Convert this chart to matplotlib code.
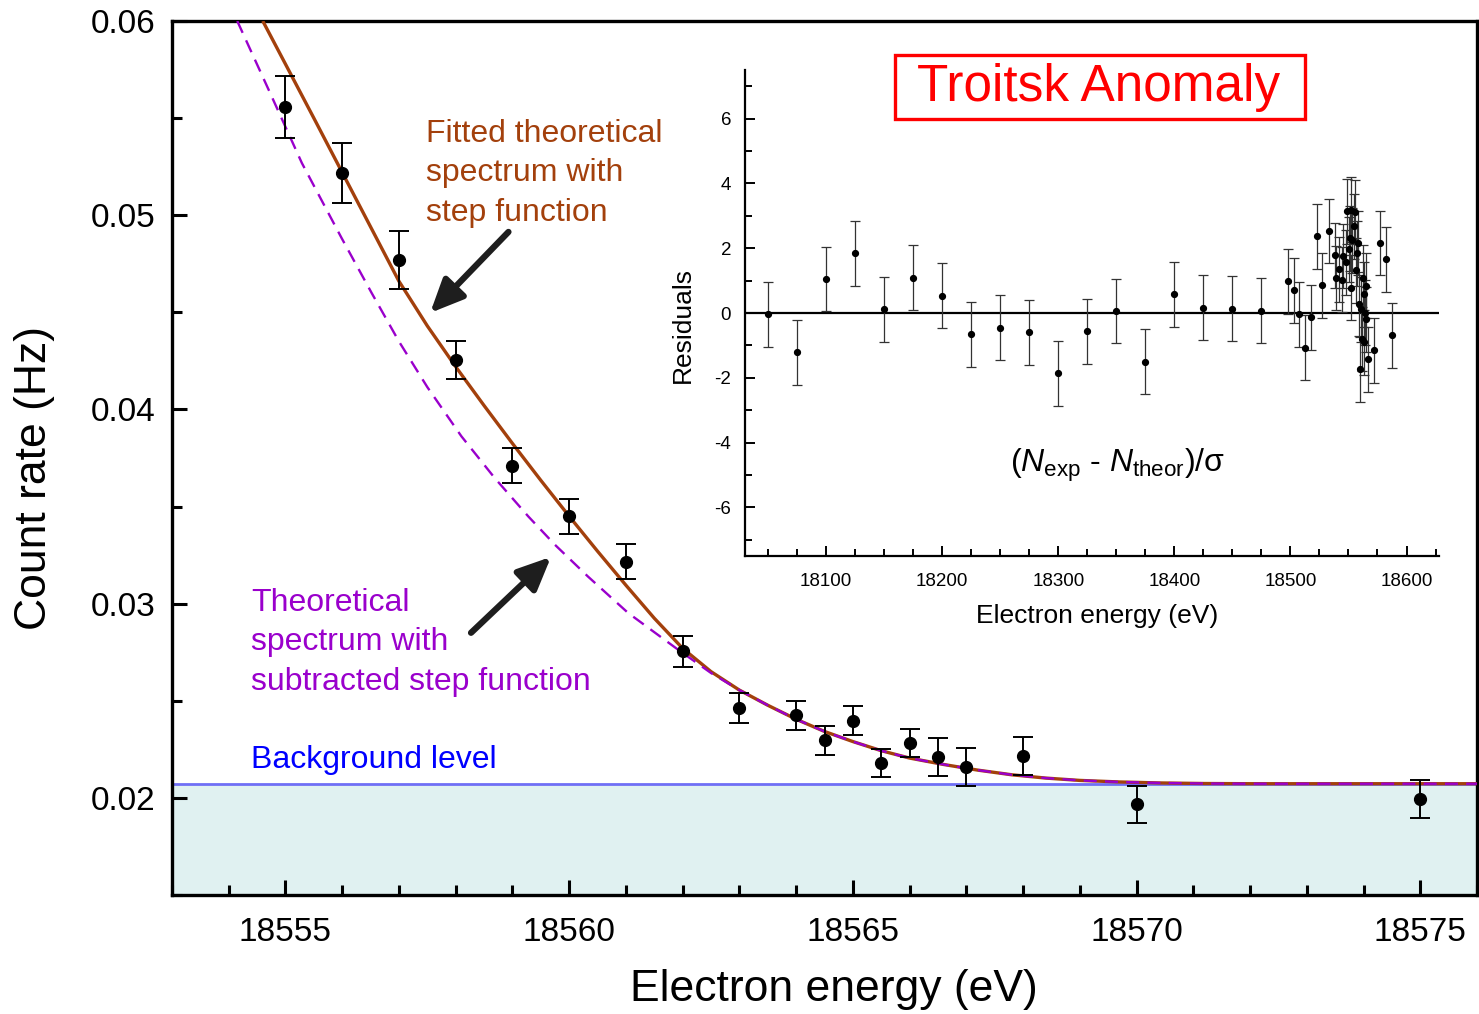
import matplotlib
matplotlib.use("Agg")
import matplotlib.pyplot as plt
from matplotlib.patches import Rectangle
from matplotlib.ticker import MultipleLocator, FixedLocator

plt.rcParams['font.family'] = ['Liberation Sans', 'DejaVu Sans']
plt.rcParams['mathtext.fontset'] = 'custom'
plt.rcParams['mathtext.rm'] = 'Liberation Sans'
plt.rcParams['mathtext.it'] = 'Liberation Sans:italic'

# ---- main spectrum: measured count rate near the endpoint ----
energy = [18555, 18556, 18557, 18558, 18559, 18560, 18561, 18562, 18563,
          18564, 18564.5, 18565, 18565.5, 18566, 18566.5, 18567, 18568,
          18570, 18575]
rate = [0.05557, 0.05218, 0.04770, 0.04255, 0.03711, 0.03451, 0.03217,
        0.02754, 0.02461, 0.02425, 0.02296, 0.02397, 0.02180, 0.02281,
        0.02210, 0.02157, 0.02216, 0.01967, 0.01996]
rate_err = [0.00161, 0.00155, 0.00148, 0.00098, 0.00092, 0.00090, 0.00088,
            0.00079, 0.00077, 0.00075, 0.00074, 0.00075, 0.00072, 0.00073,
            0.00098, 0.00098, 0.00100, 0.00095, 0.00098]

background = 0.02073

# fitted spectrum including the step function
fit_e = [18554.6, 18555.0, 18555.5, 18556.0, 18556.5, 18557.0, 18557.5,
         18558.0, 18558.5, 18559.0, 18559.5, 18560.0, 18560.5, 18561.0,
         18561.5, 18562.0, 18562.5, 18563.0, 18563.5, 18564.0, 18564.5,
         18565.0, 18565.5, 18566.0, 18566.6, 18567.2, 18567.8, 18568.4,
         18569.0, 18569.7, 18570.4, 18571.2, 18572.0, 18576.0]
fit_rate = [0.06000, 0.05778, 0.05500, 0.05220, 0.04940, 0.04660, 0.04430,
            0.04220, 0.04020, 0.03825, 0.03635, 0.03450, 0.03270, 0.03095,
            0.02925, 0.02770, 0.02650, 0.02555, 0.02477, 0.02405, 0.02342,
            0.02290, 0.02243, 0.02205, 0.02172, 0.02143, 0.02119, 0.02102,
            0.02090, 0.02082, 0.02077, 0.02074, 0.02073, 0.02073]

# theoretical spectrum with the step function subtracted
theo_e = [18554.15, 18554.7, 18555.29, 18555.99, 18556.52, 18557.0, 18557.5,
          18558.1, 18558.69, 18559.28, 18559.75, 18560.33, 18561.04,
          18561.92, 18562.5, 18563.0, 18563.5, 18564.0, 18564.5, 18565.0,
          18565.5, 18566.0, 18566.6, 18567.2, 18567.8, 18568.4, 18569.0,
          18569.7, 18570.4, 18571.2, 18572.0, 18576.0]
theo_rate = [0.06000, 0.05648, 0.05268, 0.04882, 0.04599, 0.04350, 0.04115,
             0.03862, 0.03646, 0.03449, 0.03303, 0.03140, 0.02952,
             0.02763, 0.02643, 0.02555, 0.02477, 0.02405, 0.02342, 0.02290,
             0.02243, 0.02205, 0.02172, 0.02143, 0.02119, 0.02102, 0.02090,
             0.02082, 0.02077, 0.02074, 0.02073, 0.02073]

# ---- inset: normalised residuals over the full scan ----
res_e = [18050, 18075, 18100, 18125, 18150, 18175, 18200, 18225, 18250,
         18275, 18300, 18325, 18350, 18375, 18400, 18425, 18450, 18475,
         18498, 18503, 18507.5, 18512.5, 18518, 18522.5, 18527.5, 18533,
         18538, 18539.5, 18541.5, 18544, 18545.5, 18547.5, 18549, 18550.3,
         18551, 18552, 18552.3, 18553.4, 18555, 18555.8, 18556.3, 18557.2,
         18558, 18559.2, 18560.3, 18561, 18561.5, 18562.3, 18563.2, 18563.8,
         18564, 18564.7, 18565.5, 18567.2, 18572.4, 18577.3, 18582.2,
         18587.3]
res_val = [-0.04, -1.21, 1.05, 1.84, 0.12, 1.09, 0.54, -0.66, -0.45,
           -0.60, -1.86, -0.56, 0.06, -1.50, 0.58, 0.16, 0.13, 0.07,
           0.98, 0.70, -0.04, -1.07, -0.13, 2.37, 0.85, 2.53,
           1.78, 1.08, 1.35, 1.03, 1.76, 1.56, 3.14, 1.96,
           2.31, 0.78, 3.19, 2.25, 2.68, 3.12, 1.32, 1.84,
           2.16, 0.28, -1.74, 0.12, -0.80, 1.09, -0.91, 0.58,
           0.01, -0.20, 0.84, -1.43, -1.15, 2.16, 1.66,
           -0.69]
res_err = [1.0] * len(res_val)

BROWN = '#A3400C'
PURPLE = '#9A00CC'
BLUE = '#0000FF'

W, H = 1479, 1014
fig = plt.figure(figsize=(W / 100, H / 100), dpi=100)

def fx(px):
    return px / W

def fy(py):
    return 1 - py / H

ax = fig.add_axes([fx(172), fy(895), fx(1477) - fx(172), fy(21) - fy(895)])
ax.set_xlim(18553, 18576)
ax.set_ylim(0.015, 0.06)

ax.axhspan(0.015, background, color='#E0F1F1', zorder=0, lw=0)
ax.axhline(background, color='#6F6FF5', lw=2, zorder=1)

ax.plot(fit_e, fit_rate, color=BROWN, lw=2.4, zorder=3,
        solid_joinstyle='round', solid_capstyle='butt')
ax.plot(theo_e, theo_rate, color=PURPLE, lw=1.7, ls=(0, (5.5, 3.5)), zorder=4)

ax.errorbar(energy, rate, yerr=rate_err, fmt='o', color='black', ms=8.5,
            elinewidth=1.4, capsize=7, capthick=1.4, zorder=5)

for s in ax.spines.values():
    s.set_linewidth(2.4)
ax.xaxis.set_major_locator(MultipleLocator(5))
ax.xaxis.set_minor_locator(MultipleLocator(1))
ax.yaxis.set_major_locator(MultipleLocator(0.01))
ax.yaxis.set_minor_locator(MultipleLocator(0.005))
ax.tick_params(which='both', direction='in', top=False, right=False,
               width=2.2, labelsize=24)
ax.tick_params(which='major', length=11)
ax.tick_params(which='minor', length=7)
ax.tick_params(axis='x', which='major', pad=16)
ax.tick_params(axis='y', which='major', pad=12)
ax.set_xticks([18555, 18560, 18565, 18570, 18575])
ax.set_xticklabels(['18555', '18560', '18565', '18570', '18575'])
ax.set_yticks([0.02, 0.03, 0.04, 0.05, 0.06])
ax.set_yticklabels(['0.02', '0.03', '0.04', '0.05', '0.06'])

fig.text(fx(834), fy(990), 'Electron energy (eV)', fontsize=32,
         ha='center', va='center')
fig.text(fx(35), fy(478), 'Count rate (Hz)', fontsize=32, rotation=90,
         ha='center', va='center')

# annotations
for i, line in enumerate(['Fitted theoretical', 'spectrum with', 'step function']):
    ax.text(18557.48, 0.05419 - i * 0.00203, line, color=BROWN, fontsize=23,
            ha='left', va='center')
for i, line in enumerate(['Theoretical', 'spectrum with', 'subtracted step function']):
    ax.text(18554.40, 0.03005 - i * 0.00203, line, color=PURPLE, fontsize=23,
            ha='left', va='center')
ax.text(18554.40, 0.02197, 'Background level', color=BLUE, fontsize=23,
        ha='left', va='center')

arrow = dict(arrowstyle='-|>,head_length=1.0,head_width=0.45', lw=4.5,
             color='#1E1E1E', shrinkA=0, shrinkB=0, mutation_scale=20)
ax.annotate('', xy=(18557.55, 0.04497), xytext=(18558.93, 0.04914),
            arrowprops=arrow, zorder=6)
ax.annotate('', xy=(18559.68, 0.03241), xytext=(18558.27, 0.02850),
            arrowprops=arrow, zorder=6)

# title box
fig.patches.append(Rectangle((fx(895), fy(119)), fx(1305) - fx(895),
                             fy(55) - fy(119), transform=fig.transFigure,
                             fc='white', ec='#FF0000', lw=2.4, zorder=10))
fig.text(fx(1099), fy(88), 'Troitsk Anomaly', color='#FF0000', fontsize=37,
         ha='center', va='center', zorder=11)

# ---- inset ----
ins = fig.add_axes([fx(745), fy(556), fx(1439) - fx(745), fy(70) - fy(556)])
ins.set_xlim(18030, 18628)
ins.set_ylim(-7.5, 7.5)
ins.patch.set_alpha(0)
ins.spines['top'].set_visible(False)
ins.spines['right'].set_visible(False)
for s in ('left', 'bottom'):
    ins.spines[s].set_linewidth(1.6)
ins.axhline(0, color='black', lw=1.6, zorder=2)
ins.errorbar(res_e, res_val, yerr=res_err, fmt='o', color='black', ms=4.2,
             elinewidth=0.9, ecolor='#333333', capsize=3.5, capthick=0.9, zorder=3)
ins.xaxis.set_major_locator(MultipleLocator(100))
ins.xaxis.set_minor_locator(MultipleLocator(25))
ins.yaxis.set_major_locator(FixedLocator([-6, -4, -2, 0, 2, 4, 6]))
ins.yaxis.set_minor_locator(FixedLocator([-7, -5, -3, -1, 1, 3, 5, 7]))
ins.tick_params(which='both', direction='in', width=1.4, labelsize=13.5)
ins.tick_params(which='major', length=7)
ins.tick_params(which='minor', length=5)
ins.tick_params(axis='x', which='major', pad=12)
ins.tick_params(axis='y', which='major', pad=10)
ins.set_xticks([18100, 18200, 18300, 18400, 18500, 18600])
ins.set_xticklabels(['18100', '18200', '18300', '18400', '18500', '18600'])
ins.set_yticks([-6, -4, -2, 0, 2, 4, 6])
ins.set_yticklabels(['-6', '-4', '-2', '0', '2', '4', '6'])

fig.text(fx(1097), fy(616), 'Electron energy (eV)', fontsize=19,
         ha='center', va='center')
fig.text(fx(683), fy(325), 'Residuals', fontsize=19, rotation=90,
         ha='center', va='center')
fig.text(fx(1118), fy(465), r'($N_{\mathrm{exp}}$ - $N_{\mathrm{theor}}$)/σ',
         fontsize=23, ha='center', va='center')

fig.savefig('out.png', dpi=100)
